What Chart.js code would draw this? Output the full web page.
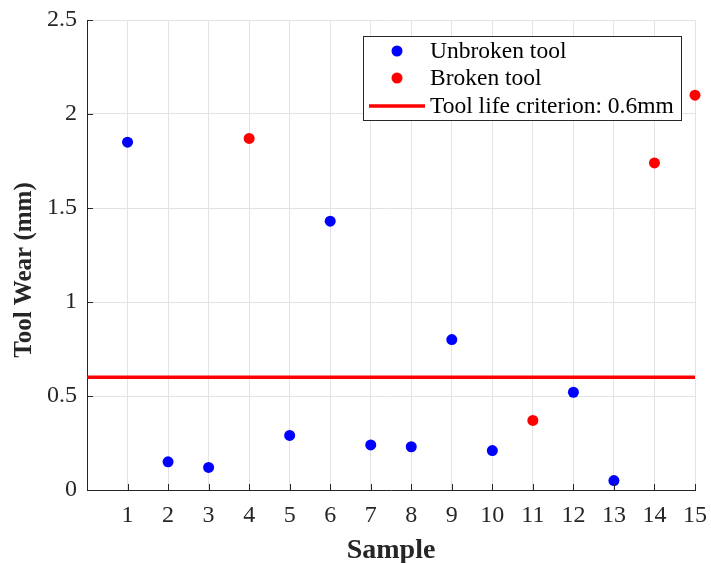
<!DOCTYPE html>
<html>
<head>
<meta charset="utf-8">
<script src="https://cdn.jsdelivr.net/npm/chart.js@4.4.1/dist/chart.umd.min.js"></script>
<style>
  html, body { margin: 0; padding: 0; background: #fff; }
  #wrap { width: 711px; height: 563px; }
</style>
</head>
<body>
<div id="wrap"><canvas id="wearChart" width="711" height="563"></canvas></div>
<script>
"use strict";

// data
const samples = [1, 2, 3, 4, 5, 6, 7, 8, 9, 10, 11, 12, 13, 14, 15];
const toolWear = [1.85, 0.15, 0.12, 1.87, 0.29, 1.43, 0.24, 0.23, 0.80, 0.21, 0.37, 0.52, 0.05, 1.74, 2.10];
const brokenFlags = [false, false, false, true, false, false, false, false, false, false, true, false, false, true, true];
const criterionValue = 0.6;
const xRange = [0, 15];
const yTicks = [0, 0.5, 1, 1.5, 2, 2.5];
const seriesLabels = ["Unbroken tool", "Broken tool", "Tool life criterion: 0.6mm"];
const yTitle = 'Tool Wear (mm)';

const FONT = "'Liberation Serif', 'Times New Roman', serif";
const INK = '#262626';

let unbrokenPts = [];
let brokenPts = [];
samples.forEach((s, i) => {
    let p = { x: s, y: toolWear[i] };
    if (brokenFlags[i]) brokenPts.push(p); else unbrokenPts.push(p);
});
let criterionPts = xRange.map(x => ({ x: x, y: criterionValue }));

// matlab style inward tick marks
const inwardTicks = {
    id: 'inwardTicks',
    afterDatasetsDraw(chart) {
        const ctx = chart.ctx;
        const xs = chart.scales.x, ys = chart.scales.y;
        const area = chart.chartArea;
        ctx.save();
        ctx.strokeStyle = INK;
        ctx.lineWidth = 1;
        ctx.beginPath();
        xs.ticks.forEach(t => {
            let px = Math.round(xs.getPixelForValue(t.value)) + 0.5;
            ctx.moveTo(px, area.bottom);
            ctx.lineTo(px, area.bottom - 6);
        });
        ys.ticks.forEach(t => {
            let py = Math.round(ys.getPixelForValue(t.value)) + 0.5;
            ctx.moveTo(area.left, py);
            ctx.lineTo(area.left + 6, py);
        });
        ctx.stroke();

        // y axis title, sits a bit below the middle like in the matlab figure
        ctx.font = 'bold 25px ' + FONT;
        ctx.fillStyle = INK;
        ctx.textAlign = 'center';
        ctx.textBaseline = 'middle';
        ctx.translate(25, 270);
        ctx.rotate(-Math.PI / 2);
        ctx.fillText(yTitle, 0, 0);
        ctx.restore();
    }
};

// boxed legend inside the plot, like the original figure
const boxLegend = {
    id: 'boxLegend',
    afterDraw(chart) {
        const ctx = chart.ctx;
        const x0 = 363, y0 = 36, w = 318, h = 84;
        const rows = [51, 78, 106];
        ctx.save();
        ctx.fillStyle = '#fff';
        ctx.fillRect(x0, y0, w, h);
        ctx.strokeStyle = INK;
        ctx.lineWidth = 1;
        ctx.strokeRect(x0 + 0.5, y0 + 0.5, w, h);
        ctx.font = '23.5px ' + FONT;
        ctx.textBaseline = 'middle';
        chart.data.datasets.forEach((ds, i) => {
            let cy = rows[i];
            if (ds.type === 'line') {
                ctx.strokeStyle = ds.borderColor;
                ctx.lineWidth = ds.borderWidth;
                ctx.beginPath();
                ctx.moveTo(x0 + 6, cy);
                ctx.lineTo(x0 + 62, cy);
                ctx.stroke();
            } else {
                ctx.fillStyle = ds.backgroundColor;
                ctx.beginPath();
                ctx.arc(x0 + 34, cy, 5.5, 0, Math.PI * 2);
                ctx.fill();
            }
            ctx.fillStyle = '#000';
            ctx.fillText(ds.label, x0 + 67, cy + 1);
        });
        ctx.restore();
    }
};

const ctx = document.getElementById('wearChart').getContext('2d');
const wearChart = new Chart(ctx, {
    type: 'scatter',
    data: {
        datasets: [
            {
                label: seriesLabels[0],
                data: unbrokenPts,
                backgroundColor: '#0000ff',
                borderColor: '#0000ff',
                pointRadius: 5.5,
                pointBorderWidth: 0,
                clip: false
            },
            {
                label: seriesLabels[1],
                data: brokenPts,
                backgroundColor: '#ff0000',
                borderColor: '#ff0000',
                pointRadius: 5.5,
                pointBorderWidth: 0,
                clip: false
            },
            {
                type: 'line',
                label: seriesLabels[2],
                data: criterionPts,
                borderColor: '#ff0000',
                backgroundColor: '#ff0000',
                borderWidth: 3.5,
                pointRadius: 0,
                fill: false
            }
        ]
    },
    options: {
        responsive: false,
        animation: false,
        layout: { padding: { left: 0, right: 16, top: 20, bottom: 0 } },
        plugins: {
            legend: { display: false },
            tooltip: { enabled: false }
        },
        scales: {
            x: {
                type: 'linear',
                min: xRange[0],
                max: xRange[1],
                afterBuildTicks: (scale) => {
                    scale.ticks = samples.map(v => ({ value: v }));
                },
                afterFit: (scale) => {
                    scale.height = 73;
                    scale.paddingRight = 0;
                    scale.paddingLeft = 0;
                },
                grid: { color: '#e3e3e3', drawTicks: false, lineWidth: 1 },
                border: { color: INK, width: 1 },
                ticks: {
                    padding: 11,
                    color: INK,
                    font: { family: FONT, size: 24 },
                    maxRotation: 0,
                    autoSkip: false
                },
                title: {
                    display: true,
                    text: 'Sample',
                    color: INK,
                    font: { family: FONT, size: 28, weight: 'bold', lineHeight: 1 },
                    padding: { top: 0, bottom: -2 }
                }
            },
            y: {
                type: 'linear',
                min: yTicks[0],
                max: yTicks[yTicks.length - 1],
                afterBuildTicks: (scale) => {
                    scale.ticks = yTicks.map(v => ({ value: v }));
                },
                afterFit: (scale) => {
                    scale.width = 87;
                    scale.paddingTop = 0;
                    scale.paddingBottom = 0;
                },
                grid: { color: '#e3e3e3', drawTicks: false, lineWidth: 1 },
                border: { color: INK, width: 1 },
                ticks: {
                    padding: 10,
                    color: INK,
                    font: { family: FONT, size: 24 },
                    callback: (v) => String(v)
                }
            }
        }
    },
    plugins: [inwardTicks, boxLegend]
});
</script>
</body>
</html>
